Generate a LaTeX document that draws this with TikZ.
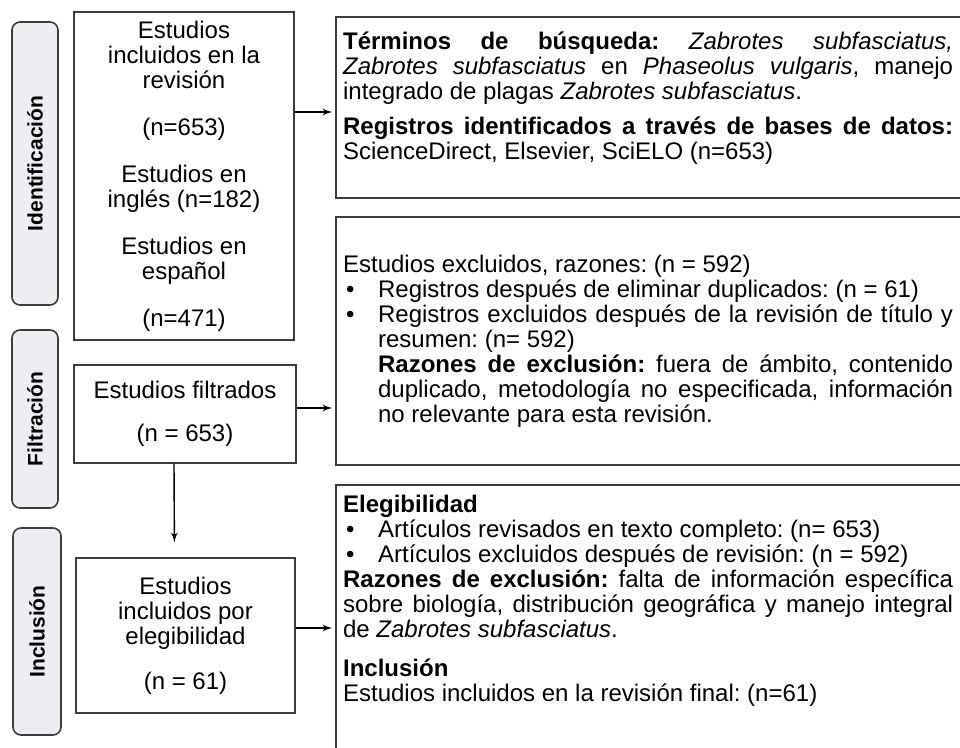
\documentclass[tikz,border=0pt]{standalone}
\usepackage{fontspec}
\setmainfont{Liberation Sans}
\usetikzlibrary{arrows,positioning}
\setlength{\parindent}{0pt}
\frenchspacing
\definecolor{stagefill}{RGB}{236,238,242}
\definecolor{linegray}{RGB}{60,60,60}
\newcommand{\bul}{\par\leftskip=17.5pt\noindent\llap{\makebox[17.5pt][l]{\hspace{1.5pt}\textbullet}}}

\begin{document}
\begin{tikzpicture}[x=0.5pt,y=-0.5pt,->,>=latex',shorten >=1.5pt,thick,
  stage node/.style={draw=linegray,fill=stagefill,rounded corners=4pt,line width=0.8pt,rotate=90,font=\fontsize{10.5}{12}\selectfont\bfseries},
  main node/.style={draw=linegray,line width=0.7pt,align=center,font=\fontsize{12}{12.5}\selectfont\frenchspacing},
  list node/.style={anchor=north west,inner sep=0pt,text width=305pt,align=justify,font=\fontsize{12}{12.5}\selectfont\frenchspacing}]

  \useasboundingbox (0,0) rectangle (960,748);
  \clip (0,0) rectangle (960,748);

  % etapas
  \node[stage node,minimum width=141.5pt,minimum height=23pt] (idf) at (35,163.5) {Identificación};
  \node[stage node,minimum width=89pt,minimum height=23pt] (fil) at (35,419) {Filtración};
  \node[stage node,minimum width=103.5pt,minimum height=24pt] (inc) at (37,631.5) {Inclusión};

  % cajas izquierda
  \node[main node,minimum width=110pt,minimum height=164pt] (1) at (184,176)
    {Estudios\\incluidos en la\\revisión\\[11pt](n=653)\\[11pt]Estudios en\\inglés (n=182)\\[11pt]Estudios en\\español\\[11pt](n=471)};
  \node[main node,minimum width=111pt,minimum height=49pt] (2) at (185,414)
    {Estudios filtrados\\[9pt](n = 653)};
  \node[main node,minimum width=109.5pt,minimum height=77.5pt] (3) at (185.5,635.5)
    {Estudios\\incluidos por\\elegibilidad\\[10pt](n = 61)};

  % cajas derecha
  \node[main node,minimum width=322pt,minimum height=90.5pt] (A) at (658,107.5) {};
  \node[main node,minimum width=322pt,minimum height=124pt] (B) at (658,341) {};
  \node[main node,minimum width=322pt,minimum height=147.5pt] (C) at (658,632.5) {};

  \node[list node] (tA) at ([shift={(3.5pt,-7.5pt)}]A.north west)
    {\textbf{Términos de búsqueda:} \textit{Zabrotes subfasciatus,}\linebreak
     \textit{Zabrotes subfasciatus} en \textit{Phaseolus vulgaris}, manejo\linebreak
     integrado de plagas \textit{Zabrotes subfasciatus}.\par\vspace{5pt}
     \textbf{Registros identificados a través de bases de datos:}\linebreak
     ScienceDirect, Elsevier, SciELO (n=653)\par};
  \node[list node] (tB) at ([shift={(3.5pt,-19pt)}]B.north west)
    {Estudios excluidos, razones: (n = 592)
     \bul Registros después de eliminar duplicados: (n = 61)
     \bul Registros excluidos después de la revisión de título y\linebreak
     resumen: (n= 592)\par
     \textbf{Razones de exclusión:} fuera de ámbito, contenido\linebreak
     duplicado, metodología no especificada, información\linebreak
     no relevante para esta revisión.\par};
  \node[list node] (tC) at ([shift={(3.5pt,-5pt)}]C.north west)
    {\textbf{Elegibilidad}
     \bul Artículos revisados en texto completo: (n= 653)
     \bul Artículos excluidos después de revisión: (n = 592)\par
     \leftskip=0pt\textbf{Razones de exclusión:} falta de información específica\linebreak
     sobre biología, distribución geográfica y manejo integral\linebreak
     de \textit{Zabrotes subfasciatus}.\par\vspace{7pt}
     \textbf{Inclusión}\par
     Estudios incluidos en la revisión final: (n=61)\par};

  \path[->,line width=0.7pt]
    ([yshift=-2.25pt]1.east |- A.west) edge ([yshift=-2.25pt]A.west)
    ([yshift=3pt]2.east) edge ([yshift=3pt]2.east -| B.west)
    ([yshift=3.75pt]3.east) edge ([yshift=3.75pt]3.east -| C.west);
  \path[->,line width=0.7pt,shorten >=7.5pt]
    ([xshift=-5.5pt]2.south) edge ([xshift=-5.5pt]3.north);
\end{tikzpicture}
\end{document}
